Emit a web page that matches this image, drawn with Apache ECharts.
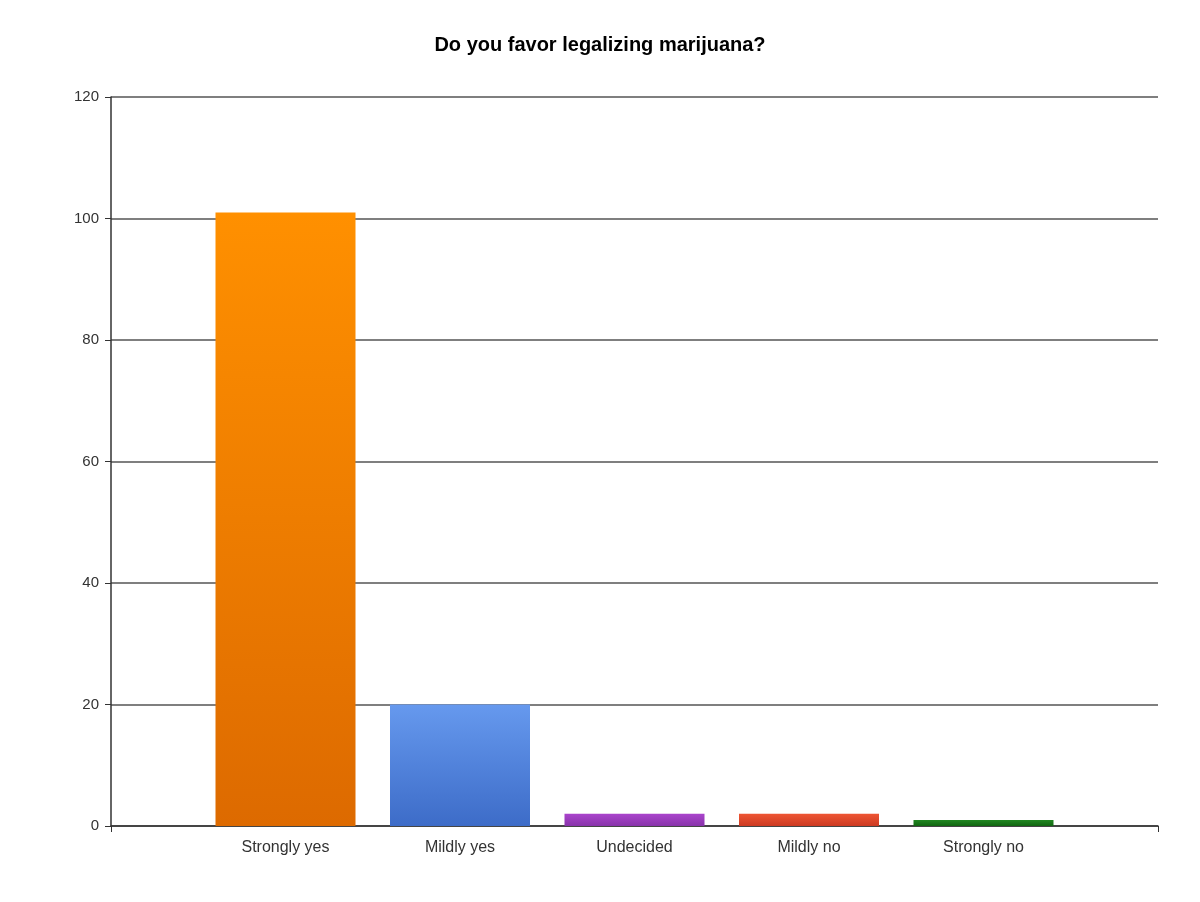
<!DOCTYPE html>
<html><head><meta charset="utf-8">
<script src="https://cdn.jsdelivr.net/npm/echarts@6/dist/echarts.min.js"></script>
<style>html,body{margin:0;background:#fff}#main{width:1200px;height:902px}</style>
</head><body><div id="main"></div>
<script>
var categories = ['', 'Strongly yes', 'Mildly yes', 'Undecided', 'Mildly no', 'Strongly no', ''];
var values = ['-', 101, 20, 2, 2, 1, '-'];
var topColors = ['', '#ff9000', '#6699ee', '#aa44cc', '#ee5533', '#228822', ''];
var bottomColors = ['', '#dd6a00', '#3d6cc8', '#8833aa', '#cc3a22', '#116611', ''];

var myChart = echarts.init(document.getElementById('main'));
var option = {
    title: {
        text: 'Do you favor legalizing marijuana?',
        left: 'center',
        top: 30,
        textStyle: { fontFamily: 'Liberation Sans', fontSize: 20, fontWeight: 'bold', color: '#000' }
    },
    grid: { left: 111, right: 42, top: 97, bottom: 76 },
    xAxis: {
        type: 'category',
        data: categories,
        boundaryGap: false,
        axisLine: { lineStyle: { color: '#333', width: 1.5 } },
        axisTick: { show: true, length: 6, interval: function (i) { return i === 0 || i === categories.length - 1; } },
        axisLabel: { color: '#333', fontSize: 16, fontFamily: 'Liberation Sans', margin: 14 }
    },
    yAxis: {
        type: 'value',
        min: 0, max: 120, interval: 20,
        axisLine: { show: true, lineStyle: { color: '#333', width: 1.5 } },
        axisTick: { show: true, length: 6, inside: false },
        splitLine: { lineStyle: { color: '#555', width: 1.5 } },
        axisLabel: { color: '#333', fontSize: 15, fontFamily: 'Liberation Sans', margin: 12 }
    },
    series: [{
        type: 'bar',
        barWidth: 140,
        data: values.map(function (v, i) {
            return {
                value: v,
                itemStyle: {
                    color: new echarts.graphic.LinearGradient(0, 0, 0, 1, [
                        { offset: 0, color: topColors[i] || '#000' },
                        { offset: 1, color: bottomColors[i] || '#000' }
                    ])
                }
            };
        })
    }]
};
myChart.setOption(option);
</script></body></html>
